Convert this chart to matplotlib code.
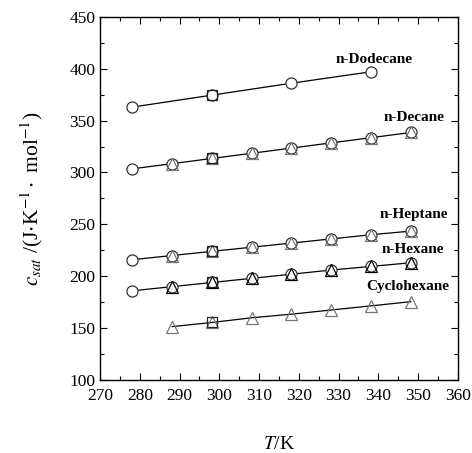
import matplotlib.pyplot as plt

plt.rcParams['font.family'] = ['Liberation Serif', 'DejaVu Serif']
plt.rcParams['mathtext.fontset'] = 'stix'

# temperatures (K)
T_all = [278.15, 288.15, 298.15, 308.15, 318.15, 328.15, 338.15, 348.15]
T_dod = [278.15, 298.15, 318.15, 338.15]
T_tri = [288.15, 298.15, 308.15, 318.15, 328.15, 338.15, 348.15]
T_sq = [298.15]

# heat capacity, J K-1 mol-1
dodecane = [363.0, 374.5, 386.0, 397.0]
decane = [303.5, 308.5, 313.5, 318.5, 323.5, 328.5, 333.5, 338.5]
decane_tri = [308.5, 313.5, 318.5, 323.5, 328.5, 333.5, 338.5]
heptane = [216.0, 220.0, 224.0, 228.0, 232.0, 236.0, 240.0, 243.5]
heptane_tri = [220.0, 224.0, 228.0, 232.0, 236.0, 240.0, 243.5]
hexane = [186.0, 190.0, 194.0, 198.0, 202.0, 206.0, 209.5, 213.0]
hexane_tri = [190.0, 194.0, 198.0, 202.0, 206.0, 209.5, 213.0]
cyclohexane = [151.5, 155.5, 160.0, 163.5, 167.5, 171.5, 175.5]
squares = {'dodecane': 374.5, 'decane': 313.5, 'heptane': 224.0,
           'hexane': 194.0, 'cyclohexane': 155.5}

labels = ['n-Dodecane', 'n-Decane', 'n-Heptane', 'n-Hexane', 'Cyclohexane']
label_T = [339.0, 349.0, 349.0, 348.6, 347.5]
label_c = [408.5, 352.5, 259.5, 226.0, 190.0]

fig = plt.figure(figsize=(4.72, 4.53), dpi=100)
ax = fig.add_axes([0.212, 0.161, 0.758, 0.802])

circ = dict(marker='o', ms=8, mfc='white', mec='#333333', mew=0.9, ls='none', zorder=3)
tri = dict(marker='^', ms=9, mfc='none', mew=0.9, ls='none', zorder=4)
sq = dict(marker='s', ms=7.5, mfc='none', mec='#222222', mew=0.9, ls='none', zorder=5)

# fitted lines
ax.plot(T_dod, dodecane, color='black', lw=0.9, zorder=2)
ax.plot(T_all, decane, color='black', lw=0.9, zorder=2)
ax.plot(T_all, heptane, color='black', lw=0.9, zorder=2)
ax.plot(T_all, hexane, color='black', lw=0.9, zorder=2)
ax.plot(T_tri, cyclohexane, color='black', lw=0.9, zorder=2)

# circles
ax.plot(T_dod, dodecane, **circ)
ax.plot(T_all, decane, **circ)
ax.plot(T_all, heptane, **circ)
ax.plot(T_all, hexane, **circ)

# triangles
ax.plot(T_tri, decane_tri, mec='#777777', **tri)
ax.plot(T_tri, heptane_tri, mec='#777777', **tri)
ax.plot(T_tri, hexane_tri, mec='#000000', **tri)
ax.plot(T_tri, cyclohexane, mec='#777777', **tri)

# squares at 298.15 K
for v in squares.values():
    ax.plot(T_sq, [v], **sq)

for lab, t, c in zip(labels, label_T, label_c):
    ax.text(t, c, lab, ha='center', va='center', fontsize=11, fontweight='bold')

ax.set_xlim(270, 360)
ax.set_ylim(100, 450)
ax.set_xticks(range(270, 361, 10))
ax.set_xticks(range(275, 360, 10), minor=True)
ax.set_yticks(range(100, 451, 50))
ax.set_yticks(range(125, 450, 50), minor=True)
ax.tick_params(which='both', direction='in', top=True, right=True, labelsize=12.5)
ax.tick_params(axis='x', which='major', pad=6)
ax.tick_params(which='major', length=5, width=0.8)
ax.tick_params(which='minor', length=3, width=0.8)
for s in ax.spines.values():
    s.set_linewidth(1.0)

ax.set_xlabel(r'$T$/K', fontsize=14)
ax.xaxis.set_label_coords(0.5, -0.155)
ax.set_ylabel(r'$c_{sat}$ /(J$\cdot$K$^{-1}\cdot$ mol$^{-1}$)', fontsize=15.5)
ax.yaxis.set_label_coords(-0.155, 0.5)

fig.savefig('out.png', dpi=100)
